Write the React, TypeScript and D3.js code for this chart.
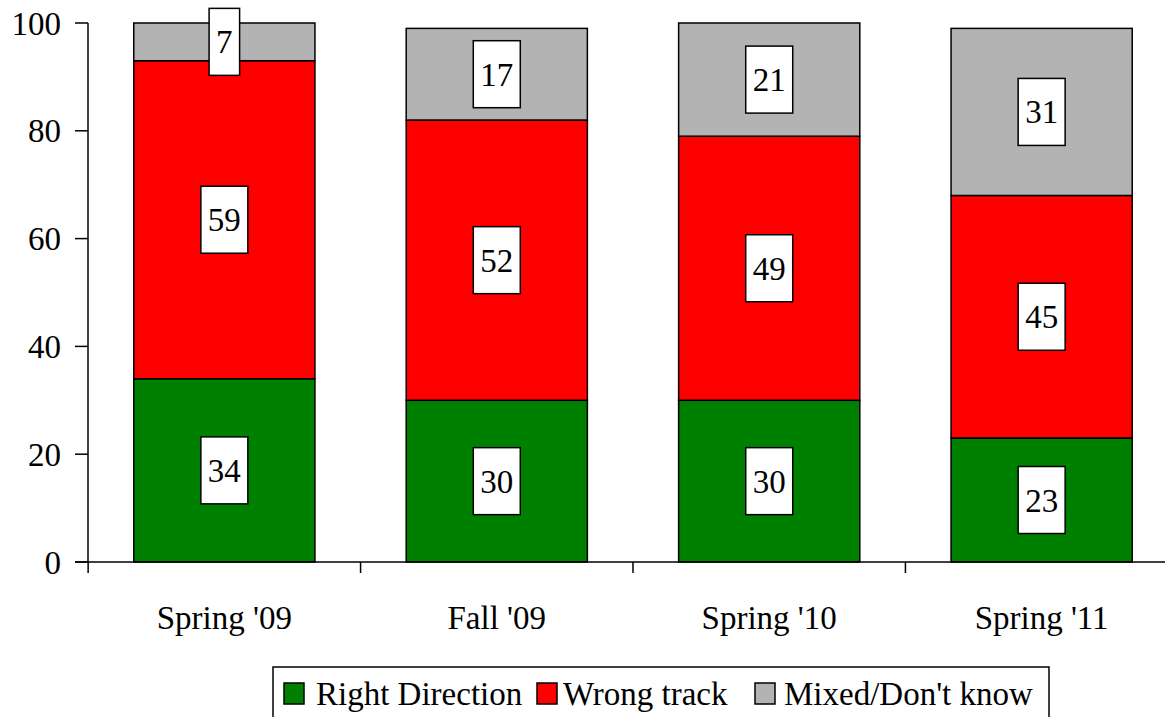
import React from "react";
import * as d3 from "d3";

const categories = ["Spring '09", "Fall '09", "Spring '10", "Spring '11"];
const seriesNames = ["Right Direction", "Wrong track", "Mixed/Don't know"];
const rightDirection = [34, 30, 30, 23];
const wrongTrack = [59, 52, 49, 45];
const mixed = [7, 17, 21, 31];
const yTicks = [0, 20, 40, 60, 80, 100];
const colors = ["#008000", "#FF0000", "#B3B3B3"];

const FONT = "'Liberation Serif', 'Times New Roman', serif";
const W = 1165;
const H = 717;

export default function App() {
  const x = d3
    .scaleBand<string>()
    .domain(categories)
    .range([88, 1178])
    .paddingInner(0.335)
    .paddingOuter(0.168);
  const y = d3.scaleLinear().domain([0, 100]).range([562, 23]);

  const rows = categories.map((c, i) => ({
    cat: c,
    v: [rightDirection[i], wrongTrack[i], mixed[i]],
  }));
  const stack = d3
    .stack<any>()
    .keys([0, 1, 2] as any)
    .value((d: any, k: any) => d.v[k]);
  const layers = stack(rows);

  const fs = 33;
  const charW = (s: string) => s.length * fs * 0.5;

  const legendItems = [
    { sw: 284, tx: 316 },
    { sw: 537, tx: 563 },
    { sw: 755, tx: 784 },
  ];

  return (
    <svg
      width={W}
      height={H}
      style={{ position: "absolute", left: 0, top: 0, background: "#fff" }}
      fontFamily={FONT}
    >
      {layers.map((layer, li) =>
        layer.map((d, i) => (
          <rect
            key={`r${li}-${i}`}
            x={x(categories[i])!}
            y={y(d[1])}
            width={x.bandwidth()}
            height={y(d[0]) - y(d[1])}
            fill={colors[li]}
            stroke="#000"
            strokeWidth={1.5}
          />
        ))
      )}
      {/* axes */}
      <line x1={88} x2={88} y1={y(100)} y2={y(0)} stroke="#000" strokeWidth={1.5} />
      <line x1={75} x2={W} y1={y(0)} y2={y(0)} stroke="#000" strokeWidth={1.5} />
      {yTicks.map((t) => (
        <g key={`yt${t}`}>
          <line x1={75} x2={88} y1={y(t)} y2={y(t)} stroke="#000" strokeWidth={1.5} />
          <text x={61} y={y(t)} dy="0.35em" textAnchor="end" fontSize={fs}>
            {t}
          </text>
        </g>
      ))}
      {categories.map((c, i) => {
        const left = x(c)! - (x.step() - x.bandwidth()) / 2;
        return (
          <g key={`xt${i}`}>
            <line x1={left} x2={left} y1={y(0)} y2={y(0) + 11} stroke="#000" strokeWidth={1.5} />
            <text x={x(c)! + x.bandwidth() / 2} y={629} textAnchor="middle" fontSize={fs}>
              {c}
            </text>
          </g>
        );
      })}
      {/* value labels */}
      {layers.map((layer, li) =>
        layer.map((d, i) => {
          const v = rows[i].v[li];
          const cx = x(categories[i])! + x.bandwidth() / 2;
          const cy = (y(d[0]) + y(d[1])) / 2;
          const bw = charW(String(v)) + 14;
          const bh = 67;
          return (
            <g key={`l${li}-${i}`}>
              <rect
                x={cx - bw / 2}
                y={cy - bh / 2}
                width={bw}
                height={bh}
                fill="#fff"
                stroke="#000"
                strokeWidth={1.5}
              />
              <text x={cx} y={cy} dy="0.35em" textAnchor="middle" fontSize={fs}>
                {v}
              </text>
            </g>
          );
        })
      )}
      {/* legend */}
      <rect x={273} y={667} width={776} height={70} fill="#fff" stroke="#000" strokeWidth={1.5} />
      {seriesNames.map((s, i) => (
        <g key={`lg${i}`}>
          <rect
            x={legendItems[i].sw}
            y={683}
            width={20}
            height={21}
            fill={colors[i]}
            stroke="#000"
            strokeWidth={1.5}
          />
          <text x={legendItems[i].tx} y={705} fontSize={fs}>
            {s}
          </text>
        </g>
      ))}
    </svg>
  );
}
